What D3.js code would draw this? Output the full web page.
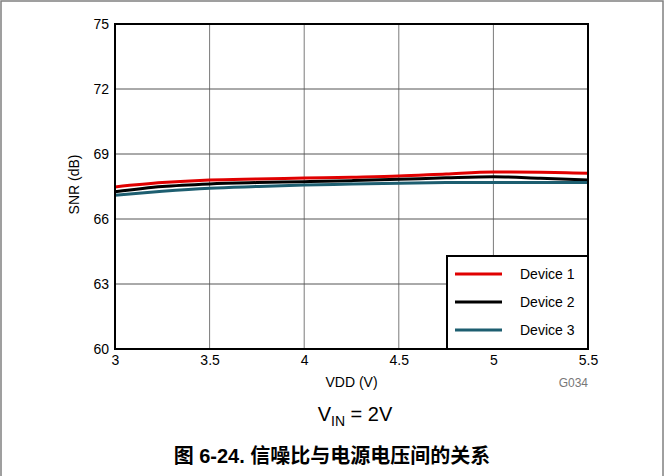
<!DOCTYPE html>
<html>
<head>
<meta charset="utf-8">
<script src="https://cdn.jsdelivr.net/npm/d3@7"></script>
<style>
  body { margin: 0; background: #fff; }
  text { font-family: "Liberation Sans", Arial, sans-serif; }
</style>
</head>
<body>
<script>
// data
const vdd = [3, 3.25, 3.5, 3.75, 4, 4.25, 4.5, 4.75, 5, 5.25, 5.5];
const device1 = [67.48, 67.68, 67.8, 67.85, 67.89, 67.93, 67.98, 68.08, 68.17, 68.16, 68.11];
const device2 = [67.26, 67.5, 67.62, 67.68, 67.72, 67.77, 67.83, 67.9, 67.95, 67.88, 67.8];
const device3 = [67.1, 67.28, 67.42, 67.5, 67.57, 67.61, 67.65, 67.68, 67.69, 67.69, 67.69];
const seriesNames = ["Device 1", "Device 2", "Device 3"];
const xTicks = [3, 3.5, 4, 4.5, 5, 5.5];
const yTicks = [60, 63, 66, 69, 72, 75];

const colors = ["#e00000", "#000000", "#1d5e70"];
const series = [device1, device2, device3];

const W = 664, H = 476;
const pL = 115, pR = 588, pT = 24, pB = 349;

const svg = d3.select("body").append("svg").attr("width", W).attr("height", H);

// outer frame
svg.append("rect").attr("x", 1).attr("y", 1).attr("width", W - 2).attr("height", H + 10)
  .attr("fill", "none").attr("stroke", "#808080").attr("stroke-width", 1.5);

const x = d3.scaleLinear().domain([3, 5.5]).range([pL, pR]);
const y = d3.scaleLinear().domain([60, 75]).range([pB, pT]);

// grid
svg.append("g").selectAll("line").data(xTicks.slice(1, -1)).enter().append("line")
  .attr("x1", d => x(d)).attr("x2", d => x(d)).attr("y1", pT).attr("y2", pB)
  .attr("stroke", "#7a7a7a").attr("stroke-width", 1);
svg.append("g").selectAll("line").data(yTicks.slice(1, -1)).enter().append("line")
  .attr("y1", d => y(d)).attr("y2", d => y(d)).attr("x1", pL).attr("x2", pR)
  .attr("stroke", "#555").attr("stroke-width", 1);

// axes labels via d3 axes
const xAxis = svg.append("g").attr("transform", `translate(0,${pB})`)
  .call(d3.axisBottom(x).tickValues(xTicks).tickSize(0).tickPadding(6).tickFormat(d3.format("")));
xAxis.select(".domain").remove();
xAxis.selectAll("text").attr("font-size", 14).attr("fill", "#000");

const yAxis = svg.append("g").attr("transform", `translate(${pL},0)`)
  .call(d3.axisLeft(y).tickValues(yTicks).tickSize(0).tickPadding(6));
yAxis.select(".domain").remove();
yAxis.selectAll("text").attr("font-size", 14).attr("fill", "#000");

// lines
const line = d3.line().x((d, i) => x(vdd[i])).y(d => y(d)).curve(d3.curveMonotoneX);
series.forEach((s, k) => {
  svg.append("path").datum(s).attr("d", line).attr("fill", "none")
    .attr("stroke", colors[k]).attr("stroke-width", 3);
});

// plot border
svg.append("rect").attr("x", pL).attr("y", pT).attr("width", pR - pL).attr("height", pB - pT)
  .attr("fill", "none").attr("stroke", "#000").attr("stroke-width", 2);

// legend
const lg = svg.append("g");
lg.append("rect").attr("x", 447).attr("y", 256).attr("width", pR - 447).attr("height", pB - 256)
  .attr("fill", "#fff").attr("stroke", "#000").attr("stroke-width", 2);
seriesNames.forEach((n, k) => {
  const ly = 274 + k * 28;
  lg.append("line").attr("x1", 455).attr("x2", 502).attr("y1", ly).attr("y2", ly)
    .attr("stroke", colors[k]).attr("stroke-width", 3);
  lg.append("text").attr("x", 520).attr("y", ly + 5).attr("font-size", 14).text(n);
});

// titles
svg.append("text").attr("x", (pL + pR) / 2).attr("y", 387).attr("text-anchor", "middle")
  .attr("font-size", 14).text("VDD (V)");
svg.append("text").attr("x", pR).attr("y", 387).attr("text-anchor", "end")
  .attr("font-size", 12).attr("fill", "#777").text("G034");
svg.append("text").attr("transform", `translate(79,${(pT + pB) / 2 - 2}) rotate(-90)`)
  .attr("text-anchor", "middle").attr("font-size", 14).text("SNR (dB)");

const vin = svg.append("text").attr("x", 355).attr("y", 421).attr("text-anchor", "middle").attr("font-size", 20);
vin.append("tspan").text("V");
vin.append("tspan").attr("font-size", 14).attr("dy", 5).text("IN");
vin.append("tspan").attr("dy", -5).text(" = 2V");

svg.append("text").attr("x", 332).attr("y", 463).attr("text-anchor", "middle")
  .attr("font-size", 20).attr("font-weight", "bold")
  .style("font-family", "'Liberation Sans', 'Noto Sans CJK SC', sans-serif")
  .text("图 6-24. 信噪比与电源电压间的关系");
</script>
</body>
</html>
